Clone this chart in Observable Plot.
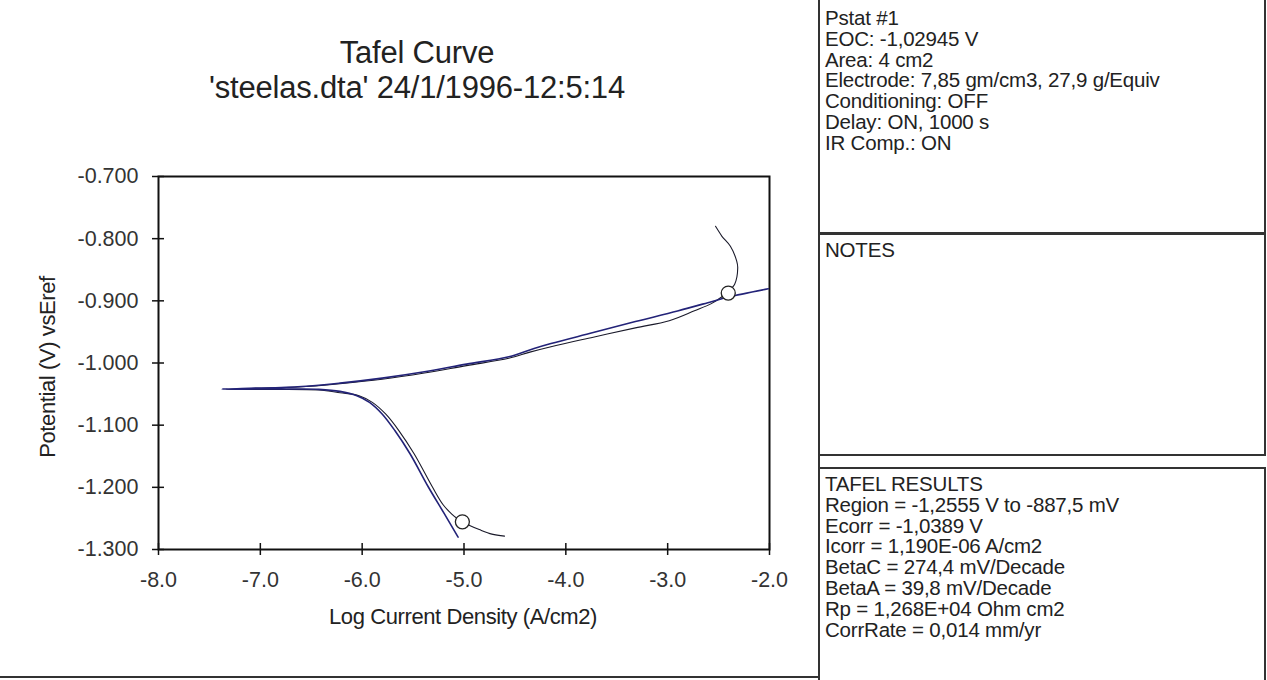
<!DOCTYPE html>
<html>
<head>
<meta charset="utf-8">
<script src="https://cdn.jsdelivr.net/npm/d3@7"></script>
<script src="https://cdn.jsdelivr.net/npm/@observablehq/plot@0.6"></script>
<style>
  html, body { margin: 0; padding: 0; background: #fff; }
  body { width: 1267px; height: 680px; overflow: hidden; position: relative;
         font-family: "Liberation Sans", Arial, sans-serif; color: #222; }
  .abs { position: absolute; }
  .title { left: 0; width: 834px; text-align: center; font-size: 31px; line-height: 35px; color: #222; letter-spacing: -0.2px; }
  .panel { position: absolute; box-sizing: border-box; border: 2px solid #333; }
  .ptext { position: absolute; left: 825px; font-size: 20.5px; line-height: 20.8px; color: #222; white-space: pre; letter-spacing: -0.2px; }
  .axlabel { position: absolute; font-size: 22px; color: #222; white-space: nowrap; letter-spacing: -0.4px; }
</style>
</head>
<body>
<div id="chart" class="abs" style="left:0;top:0"></div>
<script>
// ---- data ----
// measured Tafel scan (log current density, potential)
const dataLogI = [-5.058, -5.195, -5.350, -5.530, -5.679, -5.804, -5.928, -6.052, -6.218, -6.425, -6.632, -7.047, -7.378,
                  -6.632, -6.218, -5.804, -5.389, -4.975, -4.560, -4.312, -4.146, -3.731, -3.317, -2.903, -2.571, -2.405, -2.012];
const dataE    = [-1.280, -1.242, -1.1995, -1.146, -1.1087, -1.082, -1.0633, -1.0526, -1.0456, -1.0424, -1.0419, -1.0419, -1.0419,
                  -1.0381, -1.0323, -1.0243, -1.0141, -1.0018, -0.9901, -0.9767, -0.9687, -0.9511, -0.9334, -0.9163, -0.9014, -0.8939, -0.8806];
// second trace
const fitLogI = [-4.602, -4.726, -4.850, -4.950, -5.016, -5.060, -5.120, -5.205, -5.310, -5.490, -5.640, -5.770, -5.900, -6.030, -6.218, -6.425, -6.840, -7.337,
                 -7.047, -6.632, -6.218, -5.804, -5.389, -4.975, -4.560, -4.353, -4.146, -3.731, -3.317, -2.985, -2.737, -2.571, -2.467, -2.405, -2.343, -2.312, -2.322, -2.384, -2.467, -2.530];
const fitE    = [-1.2785, -1.2753, -1.268, -1.261, -1.2555, -1.251, -1.243, -1.228, -1.1995, -1.146, -1.1087, -1.082, -1.0633, -1.0526, -1.0478, -1.0435, -1.0424, -1.0424,
                 -1.0408, -1.0387, -1.0333, -1.0262, -1.0162, -1.0042, -0.9925, -0.9825, -0.9738, -0.9585, -0.9435, -0.9320, -0.9160, -0.9045, -0.8935, -0.8843, -0.8736, -0.8469, -0.8362, -0.8122, -0.7962, -0.7801];
// Tafel region limits (circles)
const regionLogI = [-5.016, -2.405];
const regionE    = [-1.2555, -0.8875];
// axes
const xTicks = [-8, -7, -6, -5, -4, -3, -2];
const yTicks = [-0.7, -0.8, -0.9, -1.0, -1.1, -1.2, -1.3];
const titleLines = ["Tafel Curve", "'steelas.dta' 24/1/1996-12:5:14"];
const xLabel = "Log Current Density (A/cm2)";
const yLabel = "Potential (V) vsEref";
// side panels
const infoLines = ["Pstat #1", "EOC: -1,02945 V", "Area: 4 cm2", "Electrode: 7,85 gm/cm3, 27,9 g/Equiv", "Conditioning: OFF", "Delay: ON, 1000 s", "IR Comp.: ON"];
const notesLines = ["NOTES"];
const resultLines = ["TAFEL RESULTS", "Region = -1,2555 V to -887,5 mV", "Ecorr = -1,0389 V", "Icorr = 1,190E-06 A/cm2", "BetaC = 274,4 mV/Decade", "BetaA = 39,8 mV/Decade", "Rp = 1,268E+04 Ohm cm2", "CorrRate = 0,014 mm/yr"];

// ---- build ----
const dataRows = dataLogI.map((x, i) => ({x, y: dataE[i]}));
const fitRows = fitLogI.map((x, i) => ({x, y: fitE[i]}));
const regionRows = regionLogI.map((x, i) => ({x, y: regionE[i]}));

const chart = Plot.plot({
  width: 819,
  height: 680,
  marginLeft: 158,
  marginRight: 50,
  marginTop: 176,
  marginBottom: 131,
  style: {fontFamily: '"Liberation Sans", Arial, sans-serif', fontSize: "21.5px", color: "#222", background: "transparent", overflow: "visible"},
  x: {domain: [-8, -2]},
  y: {domain: [-1.3, -0.7]},
  marks: [
    Plot.axisX({ticks: xTicks, tickSize: 6, tickPadding: 16, tickFormat: d => d.toFixed(1), label: null, stroke: "#111", strokeWidth: 1.5, fill: "#333"}),
    Plot.axisX({ticks: xTicks, tickSize: -6, tickFormat: () => "", label: null, stroke: "#111", strokeWidth: 1.5}),
    Plot.axisY({ticks: yTicks, tickSize: 6, tickPadding: 14, tickFormat: d => d.toFixed(3), label: null, stroke: "#111", strokeWidth: 1.5, fill: "#333"}),
    Plot.axisY({ticks: yTicks, tickSize: -6, tickFormat: () => "", label: null, stroke: "#111", strokeWidth: 1.5}),
    Plot.frame({stroke: "#111", strokeWidth: 2}),
    Plot.line(fitRows, {x: "x", y: "y", stroke: "#1a1a2a", strokeWidth: 1.1, curve: "catmull-rom"}),
    Plot.line(dataRows, {x: "x", y: "y", stroke: "#232378", strokeWidth: 1.6, curve: "catmull-rom"}),
    Plot.dot(regionRows, {x: "x", y: "y", r: 7, stroke: "#222", strokeWidth: 1.3, fill: "white"})
  ]
});
document.getElementById("chart").appendChild(chart);

function addDiv(cls, text, style) {
  const d = document.createElement("div");
  d.className = cls;
  d.textContent = text;
  Object.assign(d.style, style);
  document.body.appendChild(d);
  return d;
}
// title
addDiv("abs title", titleLines[0], {top: "35px"});
addDiv("abs title", titleLines[1], {top: "70px"});
// axis labels
addDiv("axlabel", xLabel, {left: "463px", top: "604px", transform: "translateX(-50%)"});
addDiv("axlabel", yLabel, {left: "48px", top: "367px", transform: "translate(-50%, -50%) rotate(-90deg)"});
// bottom rule
const rule = document.createElement("div");
Object.assign(rule.style, {position: "absolute", left: "0px", top: "676px", width: "820px", height: "2px", background: "#333"});
document.body.appendChild(rule);
// panels
const p1 = document.createElement("div"); p1.className = "panel";
Object.assign(p1.style, {left: "818px", top: "-2px", width: "448px", height: "237px"});
document.body.appendChild(p1);
const p2 = document.createElement("div"); p2.className = "panel";
Object.assign(p2.style, {left: "818px", top: "232px", width: "448px", height: "224px"});
document.body.appendChild(p2);
const p3 = document.createElement("div"); p3.className = "panel";
Object.assign(p3.style, {left: "818px", top: "467px", width: "448px", height: "230px"});
document.body.appendChild(p3);
// left connecting line
const vl = document.createElement("div");
Object.assign(vl.style, {position: "absolute", left: "818px", top: "0px", width: "2px", height: "680px", background: "#333"});
document.body.appendChild(vl);

addDiv("ptext", infoLines.join("\n"), {top: "8px"});
addDiv("ptext", notesLines.join("\n"), {top: "240px"});
addDiv("ptext", resultLines.join("\n"), {top: "474px"});
</script>
</body>
</html>
